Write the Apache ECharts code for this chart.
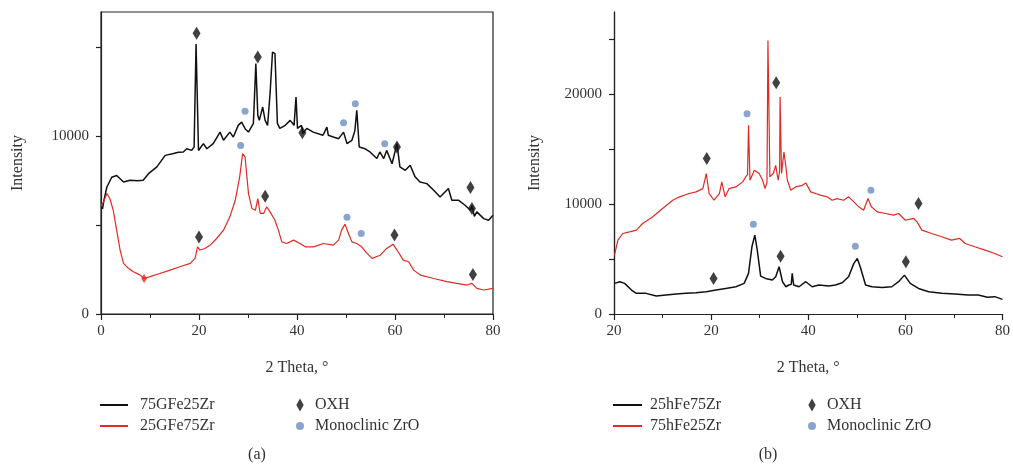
<!DOCTYPE html>
<html><head><meta charset="utf-8">
<script src="https://cdn.jsdelivr.net/npm/echarts@6/dist/echarts.min.js"></script>
<style>html,body{margin:0;padding:0;background:#fff}#c{width:1013px;height:468px}</style>
</head><body><div id="c"></div>
<script>
// ---------- tick labels ----------
const xTicksA = ['0','20','40','60','80'];
const xTicksB = ['20','20','40','60','80'];
const yLabelsA = [0, 10000];
const yTickValsA = [0, 5000, 10000, 15000];
const yLabelsB = [0, 10000, 20000];
const yTickValsB = [0, 5000, 10000, 15000, 20000, 25000];

// ---------- panel (a) ----------
const aBlackName = '75GFe25Zr';
const aBlackX = [0.3,0.6,1.2,2.2,3.2,4.6,5.9,7.5,8.6,9.7,11.4,13.1,14.8,15.8,16.8,17.5,18.5,19.0,19.4,19.9,20.4,20.9,21.6,22.9,24.3,25.0,26.3,27.0,28.0,28.7,29.4,30.1,31.1,31.6,32.0,32.3,33.0,33.5,34.0,34.5,35.0,35.5,36.0,36.5,37.6,38.6,39.4,39.8,40.1,40.9,41.2,42.0,43.3,45.3,46.1,46.4,47.4,48.5,49.5,50.2,51.2,51.8,52.2,52.7,53.9,54.9,56.3,56.9,57.7,58.3,59.4,60.4,61.0,62.1,63.1,64.1,65.1,66.5,67.9,69.2,70.9,71.6,73.0,74.3,75.4,75.7,76.2,76.7,78.1,79.1,80];
const aBlackY = [5900,6400,7150,7700,7800,7430,7530,7500,7530,7900,8280,8930,9030,9100,9120,9300,9210,9400,15200,9200,9400,9590,9300,9590,10240,9780,10240,9960,10620,10800,10430,10240,10730,14100,11200,10900,11650,10900,10620,12400,14740,14660,10730,10450,10620,10900,10620,12210,10450,10620,10170,10450,10240,10060,10520,10060,9960,9870,10240,9590,9780,10300,11460,9400,9300,9120,8750,9120,8750,9210,8460,9590,8280,8090,8370,7720,7430,7340,6970,6590,7060,6400,6400,6120,5840,6100,5500,5750,5370,5280,5560];

const aRedName = '25GFe75Zr';
const aRedX = [0,0.5,1.2,1.8,2.5,3.2,3.9,4.6,5.6,6.6,8.0,8.8,10,12,14.1,16.1,18.2,19.2,19.7,20.2,21.2,22.3,23.6,25,26.3,27.4,28.3,28.9,29.4,30.1,30.8,31.5,32.0,32.5,33.2,33.8,34.5,35.5,36.2,36.9,37.9,39.3,40.6,41.7,43.4,45.4,47.4,48.5,49.1,49.8,50.5,51.2,52.2,53.2,54.3,55.3,57,58.3,59.6,60.4,61.7,62.8,63.8,65.2,67.9,70.6,72.6,74.7,75.7,76.7,78.1,80];
const aRedY = [6100,6300,6780,6500,5840,4720,3600,2850,2570,2380,2190,2000,2100,2280,2470,2660,2850,3130,3780,3600,3690,3880,4250,4720,5470,6400,7720,9030,8840,6780,5940,5840,6500,5660,5660,6030,5750,5280,4720,4060,3970,4160,3970,3780,3780,3970,3880,4160,4720,5060,4530,4060,3970,3780,3410,3130,3310,3690,3930,3600,3030,2940,2470,2190,2000,1820,1720,1630,1720,1440,1350,1440];

const aOxhX = [19.5,32.0,33.5,20.0,41.1,60.4,59.9,75.4,75.7,75.9];
const aOxhY = [15800,14460,6630,4340,10200,9400,4440,7120,5940,2230];
const aMonoX = [29.4,28.5,49.5,51.9,57.9,50.2,53.1];
const aMonoY = [11420,9480,10770,11830,9590,5450,4530];
const aRedMarkX = [8.8];
const aRedMarkY = [2000];

// ---------- panel (b) ----------
const bBlackName = '25hFe75Zr';
const bBlackX = [0.1,1.2,2.2,3.6,4.6,6.6,8.7,10.7,12.8,14.8,16.9,19.0,21.0,23.0,25.1,26.8,27.7,28.4,29.0,29.5,30.2,31.2,32.6,33.3,34.0,34.7,35.4,36.0,36.5,36.7,37.0,38.1,39.5,40.8,42.2,44.2,45.6,47.0,48.3,49.4,50.1,50.7,51.8,53.1,55.2,57.2,58.6,59.8,61.0,62.7,64.8,67.5,70.2,72.9,75.0,76.9,78.4,80];
const bBlackY = [2790,2940,2790,2180,1880,1880,1640,1730,1820,1880,1940,2030,2180,2330,2480,2790,3700,6120,7180,5820,3450,3240,3090,3390,4300,2940,2480,2640,2700,3700,2640,2480,2940,2480,2640,2550,2640,2850,3390,4610,5060,4300,2640,2480,2420,2480,2940,3540,2790,2330,2030,1880,1820,1730,1730,1520,1580,1330];

const bRedName = '75hFe25Zr';
const bRedX = [0.1,0.8,1.8,3.2,4.6,5.9,8.0,10.0,12.1,13.5,15.5,16.9,18.3,19.0,19.6,20.6,21.7,22.2,22.9,23.7,25.1,26.5,27.1,27.5,27.7,28.0,28.9,29.9,30.6,31.1,31.5,31.7,32.1,32.8,33.3,33.8,34.1,34.2,34.5,35.0,35.4,35.7,36.4,37.4,38.8,39.5,40.5,41.5,42.5,43.9,44.9,45.9,47.3,48.3,49.4,50.4,51.4,52.3,53.0,54.2,55.9,57.6,58.6,60.0,61.7,62.4,63.4,65.4,67.5,69.5,71.2,72.3,74.3,76.4,78.4,80];
const bRedY = [5360,6730,7330,7480,7640,8240,8850,9600,10360,10670,10970,11120,11420,12790,10970,10360,10970,12030,10670,11420,11570,12030,12480,12700,17180,12180,13090,12790,12180,11420,12000,24900,12480,12790,13540,12180,13000,19750,12790,14750,13390,12180,11270,11570,11720,11940,11120,10970,10820,10670,10360,10510,10360,10670,10210,9760,9450,10510,9760,9300,9150,9000,9150,8540,8700,8390,7640,7330,7030,6730,6880,6420,6120,5820,5510,5210];

const bOxhX = [19.1,33.4,20.5,34.3,60.1,62.7];
const bOxhY = [14150,21060,3240,5270,4760,10060];
const bMonoX = [27.4,28.7,49.7,52.9];
const bMonoY = [18240,8180,6180,11270];

// ---------- text ----------
const xName = '2 Theta, °';
const yName = 'Intensity';
const oxhName = 'OXH';
const monoName = 'Monoclinic ZrO';
const panelLabels = ['(a)', '(b)'];

// ---------- build ----------
const FONT = 'Liberation Serif, Times New Roman, serif';
const TXT = '#333';
const AX = '#222';
const zip = (xs, ys) => xs.map((x, i) => [x, ys[i]]);

function xAxisCfg(g, labels) {
  return {
    type: 'value', gridIndex: g, min: 0, max: 80, interval: 20,
    axisLine: { show: true, onZero: false, lineStyle: { color: AX, width: 1.2 } },
    axisTick: { show: true, inside: false, length: 6, lineStyle: { color: AX, width: 1.2 } },
    minorTick: { show: true, splitNumber: 2, length: 4, lineStyle: { color: AX, width: 1 } },
    splitLine: { show: false }, minorSplitLine: { show: false },
    axisLabel: { formatter: v => labels[Math.round(v / 20)], margin: 10, fontFamily: FONT, fontSize: 15, color: TXT },
    name: xName, nameLocation: 'middle', nameGap: 46,
    nameTextStyle: { fontFamily: FONT, fontSize: 16, color: TXT }
  };
}
function yAxisCfg(g, max, labels, ticks, gap) {
  return {
    type: 'value', gridIndex: g, min: 0, max: max, interval: 5000,
    axisLine: { show: true, onZero: false, lineStyle: { color: AX, width: 1.2 } },
    axisTick: { show: true, inside: false, length: 5, customValues: ticks, lineStyle: { color: AX, width: 1.2 } },
    splitLine: { show: false },
    axisLabel: { customValues: labels, formatter: v => String(v), margin: 12, fontFamily: FONT, fontSize: 15, color: TXT },
    name: yName, nameLocation: 'middle', nameGap: gap,
    nameTextStyle: { fontFamily: FONT, fontSize: 16, color: TXT }
  };
}
function line(name, xi, xs, ys, color, w) {
  return { type: 'line', name, xAxisIndex: xi, yAxisIndex: xi, data: zip(xs, ys),
    symbol: 'none', showSymbol: false, lineStyle: { color, width: w }, itemStyle: { color }, z: 2 };
}
function marks(name, xi, xs, ys, symbol, size, color) {
  return { type: 'scatter', name, xAxisIndex: xi, yAxisIndex: xi, data: zip(xs, ys),
    symbol, symbolSize: size, itemStyle: { color }, z: 5 };
}
const legText = { fontFamily: FONT, fontSize: 16, color: TXT, lineHeight: 18 };
const diamondIcon = 'path://M0,-7L4,0L0,7L-4,0Z';
function leg(data, left, w, h, pad, icon) {
  const l = { data, left, top: 396, orient: 'vertical', padding: 0, itemWidth: w, itemHeight: h, itemGap: 3,
    selectedMode: false, textStyle: Object.assign({ padding: [0, 0, 0, pad] }, legText) };
  if (icon) l.icon = icon;
  return l;
}

const option = {
  animation: false,
  backgroundColor: '#fff',
  grid: [
    { left: 101, top: 12, width: 392, height: 302, show: true, borderColor: AX, borderWidth: 1.2, backgroundColor: 'transparent' },
    { left: 614, top: 12, width: 390, height: 302 }
  ],
  xAxis: [xAxisCfg(0, xTicksA), xAxisCfg(1, xTicksB)],
  yAxis: [
    yAxisCfg(0, 17000, yLabelsA, yTickValsA, 75),
    yAxisCfg(1, 27500, yLabelsB, yTickValsB, 71),
    { type: 'value', gridIndex: 1, position: 'right', min: 0, max: 27500,
      axisLine: { show: true, lineStyle: { color: AX, width: 1.2 } },
      axisTick: { show: false }, axisLabel: { show: false }, splitLine: { show: false } }
  ],
  legend: [
    leg([aBlackName, aRedName], 100, 28, 2, 7, 'rect'),
    leg([{ name: oxhName, icon: diamondIcon }, { name: monoName, icon: 'circle' }], 296, 8, 13, 6),
    leg([bBlackName, bRedName], 613, 29, 2, 3, 'rect'),
    leg([{ name: oxhName, icon: diamondIcon }, { name: monoName, icon: 'circle' }], 808, 8, 13, 6)
  ],
  graphic: [
    { type: 'text', x: 257, y: 455, style: { text: panelLabels[0], font: '16px ' + FONT, fill: TXT, textAlign: 'center', textVerticalAlign: 'middle' } },
    { type: 'text', x: 768, y: 455, style: { text: panelLabels[1], font: '16px ' + FONT, fill: TXT, textAlign: 'center', textVerticalAlign: 'middle' } }
  ],
  series: [
    line(aBlackName, 0, aBlackX, aBlackY, '#111', 1.5),
    line(aRedName, 0, aRedX, aRedY, '#e02a22', 1.2),
    marks(oxhName, 0, aOxhX, aOxhY, 'diamond', [8, 13], '#111'),
    marks(monoName, 0, aMonoX, aMonoY, 'circle', 7, '#6d8ec0'),
    marks('', 0, aRedMarkX, aRedMarkY, 'diamond', [6, 9], '#e02a22'),
    line(bBlackName, 1, bBlackX, bBlackY, '#111', 1.5),
    line(bRedName, 1, bRedX, bRedY, '#e02a22', 1.2),
    marks(oxhName, 1, bOxhX, bOxhY, 'diamond', [8, 13], '#111'),
    marks(monoName, 1, bMonoX, bMonoY, 'circle', 7, '#6d8ec0')
  ]
};
const chart = echarts.init(document.getElementById('c'), null, { renderer: 'canvas' });
chart.setOption(option);
</script></body></html>
